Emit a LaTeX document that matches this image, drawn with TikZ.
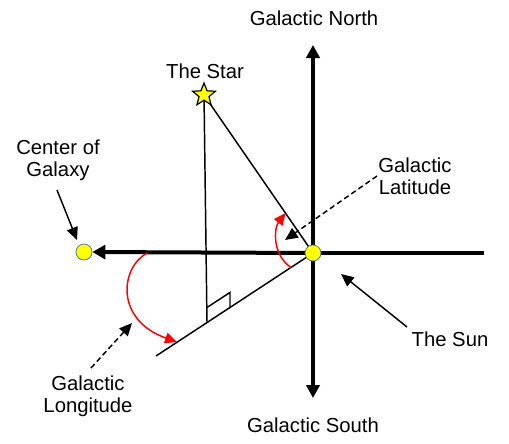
\documentclass[tikz,border=0pt]{standalone}
\usepackage{fontspec}
\setmainfont{Liberation Sans}
\usetikzlibrary{arrows.meta,shapes.geometric,backgrounds,calc}
\definecolor{ballyellow}{RGB}{255,255,0}
\definecolor{ballline}{RGB}{90,120,160}
\definecolor{arcred}{RGB}{255,0,0}
\begin{document}
\begin{tikzpicture}[x=0.75pt,y=-0.75pt,
  lbl/.style={font=\fontsize{15.2}{16.5}\selectfont, align=center, inner sep=0pt},
  ball/.style={circle, draw=ballline, line width=0.6pt, fill=ballyellow, minimum size=12pt, inner sep=0pt},
  starmark/.style={star, star points=5, star point ratio=2.3, draw=black, line width=0.9pt, fill=ballyellow, minimum size=18pt, inner sep=0pt},
  thin/.style={line width=1.1pt},
  axis/.style={line width=2.3pt, -{Triangle[length=9.75pt,width=10pt]}},
  ptr/.style={line width=1.1pt, -{Triangle[length=9.5pt,width=8.5pt]}},
  dptr/.style={ptr, dash pattern=on 4pt off 2.5pt},
  redarc/.style={draw=arcred, line width=1.1pt, -{Triangle[length=9pt,width=8pt]}, arcred}
]
\useasboundingbox (0,0) rectangle (509,443);
% nodes
\node[ball] (sun) at (313,253) {};
\node[ball] (gc) at (84,252) {};
\node[starmark] (star) at (204,95) {};
\coordinate (east) at (484,253);
\coordinate (north) at (313,45);
\coordinate (south) at (313,398);
\coordinate (slant) at (156,356);
\coordinate (foot) at (207,322.5);
\coordinate (lonA) at (147,253);
\coordinate (lonB) at (177,342);
\coordinate (latA) at (291,267.4);
\coordinate (latB) at (285.5,213);

% labels
\node[lbl] (lN) at (314,18) {Galactic North};
\node[lbl] (lS) at (313,425) {Galactic South};
\node[lbl] (lStar) at (205,71) {The Star};
\node[lbl] (lGC) at (58,160) {Center of\\Galaxy};
\node[lbl] (lLat) at (415,176) {Galactic\\Latitude};
\node[lbl] (lSun) at (450,339) {The Sun};
\node[lbl] (lLon) at (88,396) {Galactic\\Longitude};

\coordinate (latTail) at (377,176);
\coordinate (latTip) at (285,240);
\coordinate (lonTail) at (91,368);
\coordinate (lonTip) at (132,323);
\coordinate (gcTail) at (57,190);
\coordinate (gcTip) at (77,240);
\coordinate (sunTail) at (407,327);
\coordinate (sunTip) at (341,274);
\coordinate (raA) at ($(foot)+(0,-15)$);
\coordinate (raB) at ($(foot)+(23,-30.1)$);
\coordinate (raC) at ($(foot)+(23,-15.1)$);

\begin{pgfonlayer}{background}
  % main axes
  \draw[line width=3pt] (sun.center) -- (east);
  \draw[line width=3pt, -{Triangle[length=9.75pt,width=10.5pt]}] (sun.center) -- (gc.east);
  \draw[axis] (sun.center) -- (north);
  \draw[axis] (sun.center) -- (south);
  % star geometry
  \draw[thin] (star.center) -- (sun.center);
  \draw[thin] (slant) -- (sun.center);
  \draw[thin] (star.center) -- (foot);
  % right angle mark
  \draw[thin] (raA) -- (raB) -- (raC);
\end{pgfonlayer}

% red arcs
\draw[redarc] (lonA) .. controls (120,268) and (115,320) .. (lonB);
\draw[redarc] (latA) .. controls (272,255) and (274,228) .. (latB);

% pointers
\draw[dptr] (latTail) -- (latTip);
\draw[dptr] (lonTail) -- (lonTip);
\draw[ptr] (gcTail) -- (gcTip);
\draw[ptr] (sunTail) -- (sunTip);
\end{tikzpicture}
\end{document}
